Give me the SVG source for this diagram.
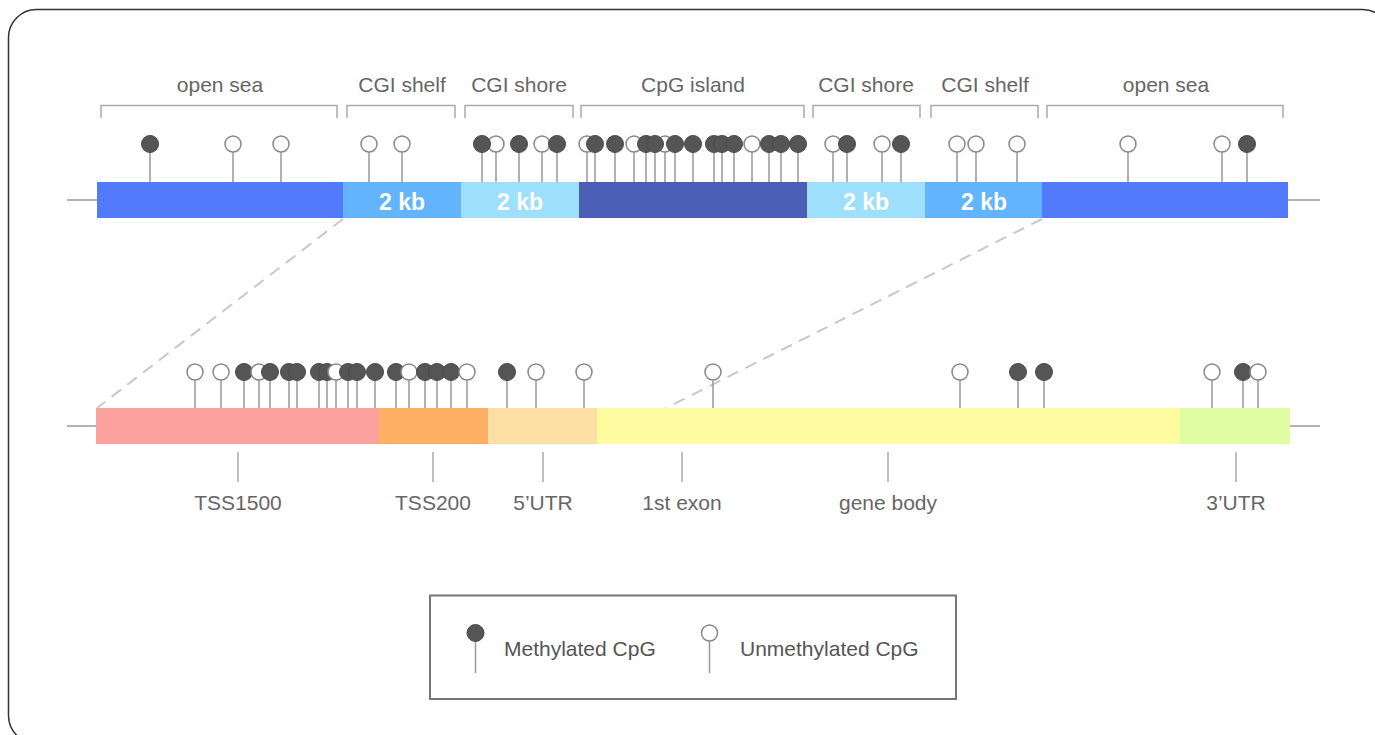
<svg xmlns="http://www.w3.org/2000/svg" xmlns:xlink="http://www.w3.org/1999/xlink" width="1375" height="735" viewBox="0 0 1375 735">
  <style>
    .lbl { font-family: "Liberation Sans", Arial, sans-serif; font-size: 21px; fill: #666; text-anchor: middle; }
    .kb { font-family: "Liberation Sans", Arial, sans-serif; font-size: 23px; font-weight: bold; fill: #fff; text-anchor: middle; }
    .leg { font-family: "Liberation Sans", Arial, sans-serif; font-size: 21px; fill: #555; }
    .brk { fill: none; stroke: #aaa; stroke-width: 1.5; }
    .axis { stroke: #999; stroke-width: 1.5; }
    .tick { stroke: #aaa; stroke-width: 1.5; }
    .stem { stroke: #999; stroke-width: 1.5; }
    .pm { fill: #555; stroke: #4a4a4a; stroke-width: 1; }
    .pu { fill: #fff; stroke: #888; stroke-width: 1.5; }
    .zoom { stroke: #c8c8c8; stroke-width: 2; stroke-dasharray: 12 8; fill: none; }
  </style>
  <defs>
    <!-- CpG pins: stem + head, head centred at origin -->
    <g id="pinM"><line class="stem" x1="0" y1="0" x2="0" y2="40"/><circle class="pm" r="8.5"/></g>
    <g id="pinU"><line class="stem" x1="0" y1="0" x2="0" y2="40"/><circle class="pu" r="8"/></g>
  </defs>

  <!-- outer frame -->
  <rect id="frame" x="8.5" y="9.5" width="1382" height="734" rx="28" ry="28" fill="none" stroke="#333" stroke-width="1.5"/>

  <!-- zoom guide lines between the two tracks -->
  <g id="connectors">
    <line class="zoom" x1="343" y1="219" x2="97" y2="408"/>
    <line class="zoom" x1="1042" y1="219" x2="666" y2="408"/>
  </g>

  <!-- region brackets and names -->
  <g id="region-labels">
    <g id="lab-opensea-l"><path class="brk" d="M101 118 V105.5 H337 V118"/><text class="lbl" x="220" y="92">open sea</text></g>
    <g id="lab-shelf-l"><path class="brk" d="M347 118 V105.5 H455 V118"/><text class="lbl" x="402" y="92">CGI shelf</text></g>
    <g id="lab-shore-l"><path class="brk" d="M465 118 V105.5 H573 V118"/><text class="lbl" x="519" y="92">CGI shore</text></g>
    <g id="lab-island"><path class="brk" d="M581 118 V105.5 H804 V118"/><text class="lbl" x="693" y="92">CpG island</text></g>
    <g id="lab-shore-r"><path class="brk" d="M813 118 V105.5 H920 V118"/><text class="lbl" x="866" y="92">CGI shore</text></g>
    <g id="lab-shelf-r"><path class="brk" d="M931 118 V105.5 H1038 V118"/><text class="lbl" x="985" y="92">CGI shelf</text></g>
    <g id="lab-opensea-r"><path class="brk" d="M1047 118 V105.5 H1283 V118"/><text class="lbl" x="1166" y="92">open sea</text></g>
  </g>

  <!-- CpG sites on the upper track -->
  <g id="cpg-top">
    <use href="#pinU" x="233" y="144"/>
    <use href="#pinU" x="281" y="144"/>
    <use href="#pinU" x="369" y="144"/>
    <use href="#pinU" x="402" y="144"/>
    <use href="#pinU" x="496" y="144"/>
    <use href="#pinU" x="542" y="144"/>
    <use href="#pinU" x="587" y="144"/>
    <use href="#pinU" x="634" y="144"/>
    <use href="#pinU" x="665" y="144"/>
    <use href="#pinU" x="752" y="144"/>
    <use href="#pinU" x="833" y="144"/>
    <use href="#pinU" x="882" y="144"/>
    <use href="#pinU" x="957" y="144"/>
    <use href="#pinU" x="976" y="144"/>
    <use href="#pinU" x="1017" y="144"/>
    <use href="#pinU" x="1128" y="144"/>
    <use href="#pinU" x="1222" y="144"/>
    <use href="#pinM" x="150" y="144"/>
    <use href="#pinM" x="482" y="144"/>
    <use href="#pinM" x="519" y="144"/>
    <use href="#pinM" x="557" y="144"/>
    <use href="#pinM" x="595" y="144"/>
    <use href="#pinM" x="615" y="144"/>
    <use href="#pinM" x="646" y="144"/>
    <use href="#pinM" x="655" y="144"/>
    <use href="#pinM" x="675" y="144"/>
    <use href="#pinM" x="693" y="144"/>
    <use href="#pinM" x="714" y="144"/>
    <use href="#pinM" x="722" y="144"/>
    <use href="#pinM" x="734" y="144"/>
    <use href="#pinM" x="769" y="144"/>
    <use href="#pinM" x="781" y="144"/>
    <use href="#pinM" x="798" y="144"/>
    <use href="#pinM" x="847" y="144"/>
    <use href="#pinM" x="901" y="144"/>
    <use href="#pinM" x="1247" y="144"/>
  </g>

  <!-- upper track: CpG island context -->
  <g id="track-top">
    <line class="axis" x1="67" y1="200" x2="97" y2="200"/>
    <line class="axis" x1="1288" y1="200" x2="1320" y2="200"/>
    <g id="seg-opensea-l"><rect x="97" y="182" width="246" height="36" fill="#527bfc"/></g>
    <g id="seg-shelf-l"><rect x="343" y="182" width="118" height="36" fill="#62b5fc"/><text class="kb" x="402" y="210">2 kb</text></g>
    <g id="seg-shore-l"><rect x="461" y="182" width="118" height="36" fill="#9ee0fc"/><text class="kb" x="520" y="210">2 kb</text></g>
    <g id="seg-island"><rect x="579" y="182" width="228" height="36" fill="#4a5eb5"/></g>
    <g id="seg-shore-r"><rect x="807" y="182" width="118" height="36" fill="#9ee0fc"/><text class="kb" x="866" y="210">2 kb</text></g>
    <g id="seg-shelf-r"><rect x="925" y="182" width="117" height="36" fill="#62b5fc"/><text class="kb" x="984" y="210">2 kb</text></g>
    <g id="seg-opensea-r"><rect x="1042" y="182" width="246" height="36" fill="#527bfc"/></g>
  </g>

  <!-- CpG sites on the lower track -->
  <g id="cpg-bottom">
    <use href="#pinU" x="195" y="372"/>
    <use href="#pinU" x="221" y="372"/>
    <use href="#pinM" x="244" y="372"/>
    <use href="#pinU" x="259" y="372"/>
    <use href="#pinM" x="270" y="372"/>
    <use href="#pinM" x="289" y="372"/>
    <use href="#pinM" x="297" y="372"/>
    <use href="#pinM" x="319" y="372"/>
    <use href="#pinM" x="327" y="372"/>
    <use href="#pinU" x="336" y="372"/>
    <use href="#pinM" x="348" y="372"/>
    <use href="#pinM" x="357" y="372"/>
    <use href="#pinM" x="375" y="372"/>
    <use href="#pinM" x="396" y="372"/>
    <use href="#pinU" x="409" y="372"/>
    <use href="#pinM" x="425" y="372"/>
    <use href="#pinM" x="437" y="372"/>
    <use href="#pinM" x="451" y="372"/>
    <use href="#pinU" x="467" y="372"/>
    <use href="#pinM" x="507" y="372"/>
    <use href="#pinU" x="536" y="372"/>
    <use href="#pinU" x="584" y="372"/>
    <use href="#pinU" x="713" y="372"/>
    <use href="#pinU" x="960" y="372"/>
    <use href="#pinM" x="1018" y="372"/>
    <use href="#pinM" x="1044" y="372"/>
    <use href="#pinU" x="1212" y="372"/>
    <use href="#pinM" x="1243" y="372"/>
    <use href="#pinU" x="1258" y="372"/>
  </g>

  <!-- lower track: gene features -->
  <g id="track-bottom">
    <line class="axis" x1="67" y1="426" x2="96" y2="426"/>
    <line class="axis" x1="1290" y1="426" x2="1320" y2="426"/>
    <g id="seg-tss1500"><rect x="96" y="408" width="283" height="36" fill="#fca29e"/></g>
    <g id="seg-tss200"><rect x="379" y="408" width="109" height="36" fill="#fdb063"/></g>
    <g id="seg-5utr"><rect x="488" y="408" width="109" height="36" fill="#fddfa3"/></g>
    <g id="seg-body"><rect x="597" y="408" width="583" height="36" fill="#fdfb9f"/></g>
    <g id="seg-3utr"><rect x="1180" y="408" width="110" height="36" fill="#dffca3"/></g>
  </g>

  <!-- feature names -->
  <g id="feature-labels">
    <g id="fl-tss1500"><line class="tick" x1="238" y1="452" x2="238" y2="482"/><text class="lbl" x="238" y="510">TSS1500</text></g>
    <g id="fl-tss200"><line class="tick" x1="433" y1="452" x2="433" y2="482"/><text class="lbl" x="433" y="510">TSS200</text></g>
    <g id="fl-5utr"><line class="tick" x1="543" y1="452" x2="543" y2="482"/><text class="lbl" x="543" y="510">5’UTR</text></g>
    <g id="fl-exon"><line class="tick" x1="682" y1="452" x2="682" y2="482"/><text class="lbl" x="682" y="510">1st exon</text></g>
    <g id="fl-body"><line class="tick" x1="888" y1="452" x2="888" y2="482"/><text class="lbl" x="888" y="510">gene body</text></g>
    <g id="fl-3utr"><line class="tick" x1="1236" y1="452" x2="1236" y2="482"/><text class="lbl" x="1236" y="510">3’UTR</text></g>
  </g>

  <!-- legend -->
  <g id="legend">
    <rect x="430" y="595.5" width="526" height="103.5" fill="#fff" stroke="#777" stroke-width="2"/>
    <g id="leg-meth">
      <line class="stem" x1="475.5" y1="634" x2="475.5" y2="673"/>
      <circle class="pm" cx="475.5" cy="633" r="8.5"/>
      <text class="leg" x="504" y="656">Methylated CpG</text>
    </g>
    <g id="leg-unmeth">
      <line class="stem" x1="709.5" y1="634" x2="709.5" y2="673"/>
      <circle class="pu" cx="709.5" cy="633" r="8"/>
      <text class="leg" x="740" y="656">Unmethylated CpG</text>
    </g>
  </g>
</svg>
